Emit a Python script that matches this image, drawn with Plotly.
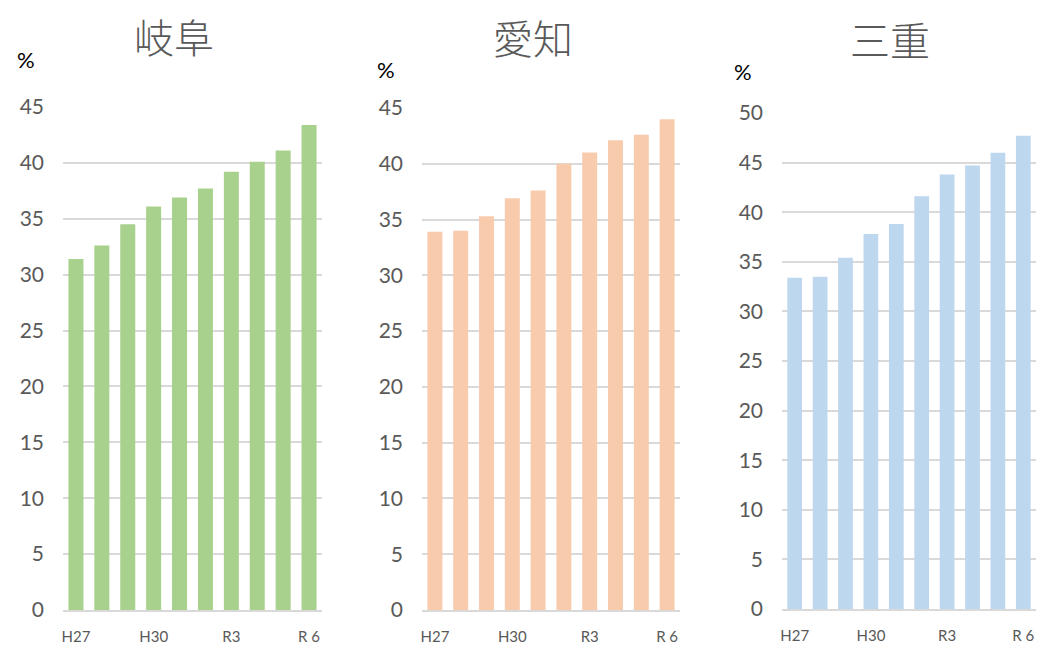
import plotly.graph_objects as go
from plotly.subplots import make_subplots

years = ['H27', 'H28', 'H29', 'H30', 'R1', 'R2', 'R3', 'R4', 'R5', 'R6']
tick_years = ['H27', 'H30', 'R3', 'R6']
tick_text = ['H27', 'H30', 'R3', 'R 6']

gifu = [31.4, 32.6, 34.5, 36.1, 36.9, 37.7, 39.2, 40.1, 41.1, 43.4]
aichi = [33.9, 34.0, 35.3, 36.9, 37.6, 40.0, 41.0, 42.1, 42.6, 44.0]
mie = [33.4, 33.5, 35.4, 37.8, 38.8, 41.6, 43.8, 44.7, 46.0, 47.7]

prefs = ['岐阜', '愛知', '三重']
colors = ['#A9D18E', '#F8CBAD', '#BDD7EE']
y_max = [45, 45, 50]

W, H = 1041, 646
# plot areas in pixels: x0, x1, ytop, ybottom
areas = [(63, 322, 107, 610), (422, 680, 108, 610), (782, 1036, 113, 609)]
title_pos = [(174, 36), (533, 37), (890, 39)]
pct_pos = [(26, 60), (386, 69), (743, 71)]

fig = make_subplots(rows=1, cols=3)
gray = '#595959'
font_num = 'Lato, Open Sans, sans-serif'
font_jp = 'Noto Sans CJK JP'

for i, vals in enumerate([gifu, aichi, mie]):
    fig.add_trace(go.Bar(x=years, y=vals, marker_color=colors[i],
                         marker_line_width=0, showlegend=False),
                  row=1, col=i + 1)
    x0, x1, yt, yb = areas[i]
    ax = '' if i == 0 else str(i + 1)
    fig.layout['xaxis' + ax].update(
        domain=[x0 / W, x1 / W], tickvals=tick_years, ticktext=tick_text,
        showgrid=False, showline=True, linecolor='#D9D9D9', linewidth=2,
        tickfont=dict(size=15, color=gray, family=font_num),
        ticks='', ticklabelstandoff=12, automargin=False, fixedrange=True)
    fig.layout['yaxis' + ax].update(
        domain=[1 - yb / H, 1 - yt / H], range=[0, y_max[i]], dtick=5,
        showgrid=True, gridcolor='#D9D9D9', gridwidth=1.5, zeroline=False,
        tickfont=dict(size=21, color=gray, family=font_num),
        ticks='', ticklabelstandoff=18, automargin=False)
    tx, ty = title_pos[i]
    fig.add_annotation(text=prefs[i], x=tx / W, y=1 - ty / H, xanchor='center', yanchor='middle',
                       xref='paper', yref='paper', showarrow=False,
                       font=dict(size=40, color=gray, family=font_jp, weight=300))
    px, py = pct_pos[i]
    fig.add_annotation(text='%', x=px / W, y=1 - py / H, xanchor='center', yanchor='middle',
                       xref='paper', yref='paper', showarrow=False,
                       font=dict(size=22, color='black', family=font_num))

fig.update_layout(width=W, height=H, margin=dict(l=0, r=0, t=0, b=0),
                  bargap=0.42, plot_bgcolor='white', paper_bgcolor='white')

fig.write_html('out.html', config={'displayModeBar': False},
               post_script="document.body.style.margin='0px';")
